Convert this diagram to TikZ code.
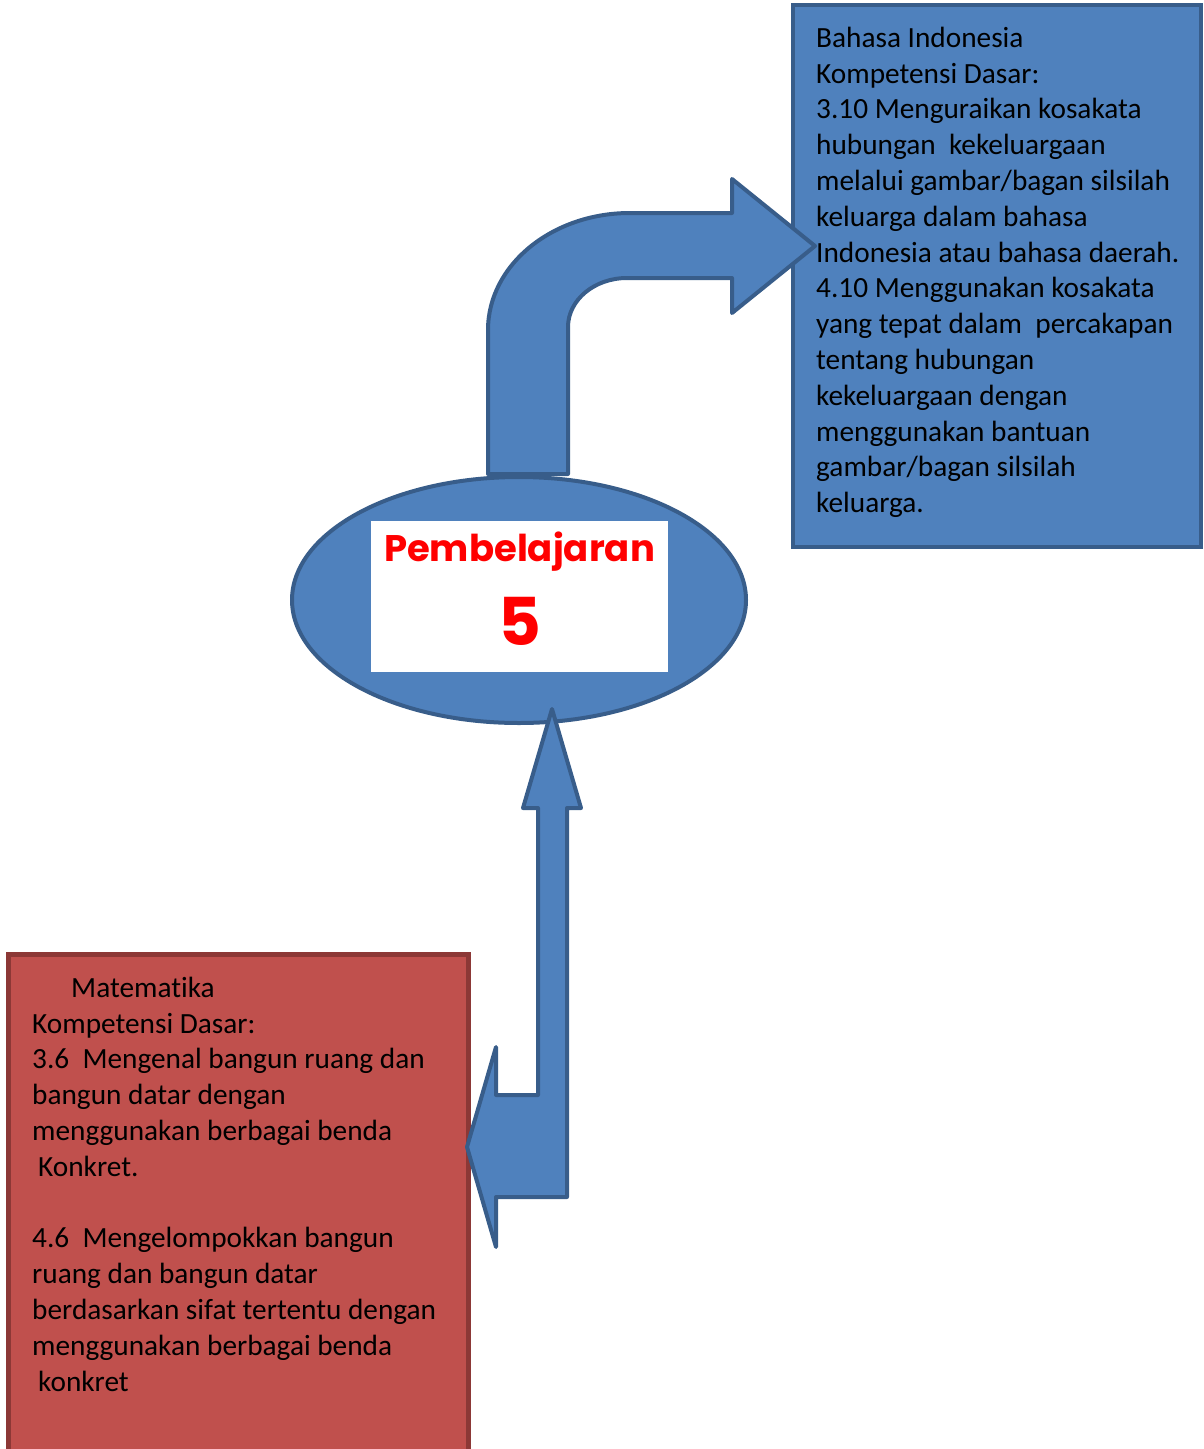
\documentclass[tikz,border=0pt]{standalone}
\usepackage{fontspec}
\setmainfont{Carlito}[Ligatures=NoCommon]
\newfontfamily\judulfont{Poppins}
\usetikzlibrary{shapes.geometric}

\definecolor{biru}{HTML}{4F81BD}
\definecolor{birutua}{HTML}{385D8A}
\definecolor{merah}{HTML}{C0504D}
\definecolor{merahtua}{HTML}{8C3836}

\tikzset{
  panah/.style={fill=biru, draw=birutua, line width=4pt, line join=round},
  kotakbiru/.style={fill=biru, draw=birutua, line width=4pt, inner sep=0pt},
  kotakmerah/.style={fill=merah, draw=merahtua, line width=5pt, inner sep=0pt},
  isi/.style={anchor=north west, inner sep=0pt, align=left,
    font=\fontsize{29.3}{35.8}\selectfont},
}

\begin{document}
\begin{tikzpicture}[x=1pt,y=-1pt]
    \useasboundingbox (0,0) rectangle (1203,1449);

    % kotak kanan atas
    \node[kotakbiru, minimum width=408pt, minimum height=542pt] (bindo) at (997,276) {};
    \node[isi] (bindoisi) at (816,22) {\strut Bahasa Indonesia\\
        Kompetensi Dasar:\\
        3.10 Menguraikan kosakata\\
        hubungan\ \ kekeluargaan\\
        melalui gambar/bagan silsilah\\
        keluarga dalam bahasa\\
        Indonesia atau bahasa daerah.\\
        4.10 Menggunakan kosakata\\
        yang tepat dalam\ \ percakapan\\
        tentang hubungan\\
        kekeluargaan dengan\\
        menggunakan bantuan\\
        gambar/bagan silsilah\\
        keluarga.};

    % panah lengkung ke kanan
    \draw[panah] (488,474) -- (488,330)
        .. controls (488,265.4) and (551.6,213) .. (630,213)
        -- (732,213) -- (732,179) -- (815,246) -- (732,313) -- (732,278) -- (627,278)
        .. controls (594.4,278) and (568,300) .. (568,327)
        -- (568,474) -- cycle;

    % pusat
    \node[ellipse, fill=biru, draw=birutua, line width=4pt, inner sep=0pt,
        minimum width=454pt, minimum height=246pt] (pusat) at (519,600) {};
    \node[fill=white, inner sep=0pt, minimum width=297pt, minimum height=151pt] (papan) at (519.5,596.5) {};
    \node[anchor=base, text=red, inner sep=0pt, font=\judulfont\bfseries\fontsize{37}{40}\selectfont] (judul) at (519.5,561) {Pembelajaran};
    \node[anchor=base, text=red, inner sep=0pt, font=\judulfont\bfseries\fontsize{66}{70}\selectfont] (nomor) at (519.5,645) {5};

    % kotak kiri bawah
    \node[kotakmerah, minimum width=460pt, minimum height=526pt] (mtk) at (238,1217) {};
    \node[isi] (mtkisi) at (32,972) {\strut\hspace*{39pt}Matematika\\
        Kompetensi Dasar:\\
        3.6\ \ Mengenal bangun ruang dan\\
        bangun datar dengan\\
        menggunakan berbagai benda\\
        \hspace*{6pt}Konkret.\\
        \mbox{}\\
        4.6\ \ Mengelompokkan bangun\\
        ruang dan bangun datar\\
        berdasarkan sifat tertentu dengan\\
        menggunakan berbagai benda\\
        \hspace*{6pt}konkret};

    % panah naik dan ke kiri
    \draw[panah] (552,709) -- (581,808) -- (567,808) -- (567,1197) -- (496,1197)
        -- (496,1247) -- (467,1147) -- (496,1047) -- (496,1095) -- (538,1095)
        -- (538,808) -- (523,808) -- cycle;
\end{tikzpicture}
\end{document}
